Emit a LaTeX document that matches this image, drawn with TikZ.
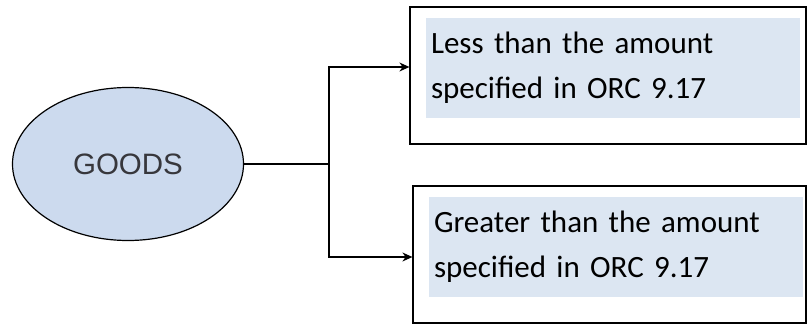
\documentclass[tikz,border=0pt]{standalone}
\usepackage{fontspec}
\setmainfont{Carlito}
\newfontfamily\goodsfont{Liberation Sans}
\usetikzlibrary{positioning}
\usetikzlibrary{shapes}
\usetikzlibrary{arrows.meta}
\usepackage{xcolor}
\definecolor{ovalblue}{RGB}{204,218,238}
\definecolor{boxblue}{RGB}{220,230,242}
\definecolor{goodsgray}{RGB}{55,55,60}

\begin{document}
\begin{tikzpicture}
[x=1pt, y=-1pt,
% The oval style is used to draw the goods
oval/.style={ellipse, draw, line width=1.2pt, fill=ovalblue, minimum width=231pt, minimum height=153pt, inner sep=0pt, font=\goodsfont\fontsize{29.5}{34}\selectfont, text=goodsgray},
% The frame style is used to draw the outer boxes
frame/.style={rectangle, draw, line width=1.2pt, minimum height=137pt},
% The amount style is used to write the two cases
amount/.style={rectangle, fill=boxblue, text width=364pt, inner xsep=5pt, inner ysep=0pt, minimum height=100pt, align=left, font=\fontsize{31}{45}\selectfont},
link/.style={line width=1.2pt, -{Stealth[length=10pt, width=9pt]}}
]
\useasboundingbox (0,0) rectangle (807,324);
% Draw the goods and the two cases
\node [oval] (goods) at (128,164) {GOODS};
\node [frame, minimum width=396pt] (less) at (608,75.5) {};
\node [amount] (lesstext) at (613,68) {Less than the amount\\specified in ORC 9.17};
\node [frame, minimum width=393pt] (greater) at (609.5,254.5) {};
\node [amount] (greatertext) at (616,247) {Greater than the amount\\specified in ORC 9.17};
\coordinate (split) at (329,164);
\draw[line width=1.2pt] (goods.east) -- (split);
\draw[link] (split) |- ([yshift=8.5pt]less.west);
\draw[link] (split) |- ([yshift=-2.5pt]greater.west);
\end{tikzpicture}
\end{document}
